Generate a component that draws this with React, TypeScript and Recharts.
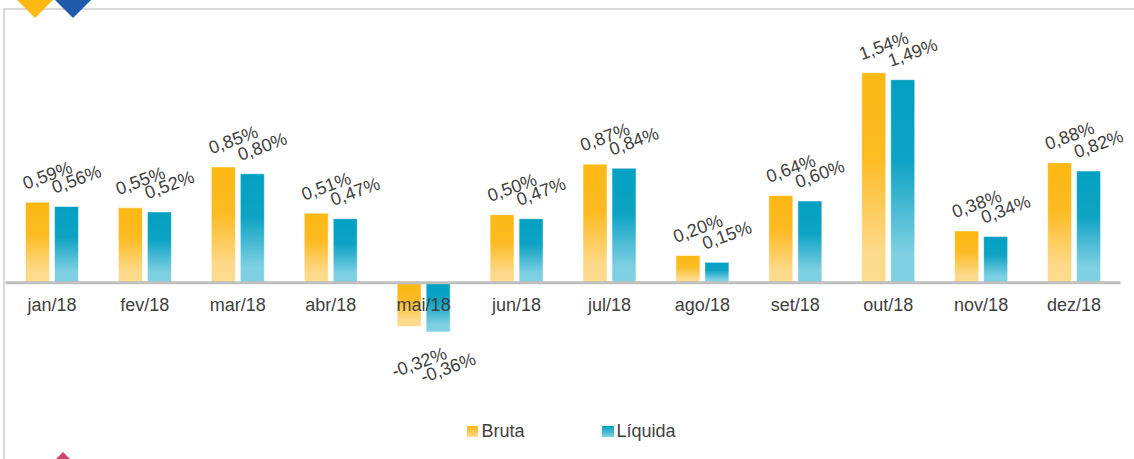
import React from "react";
import { BarChart, Bar, XAxis, YAxis, ReferenceLine, LabelList, Legend } from "recharts";

const months = ["jan/18", "fev/18", "mar/18", "abr/18", "mai/18", "jun/18", "jul/18", "ago/18", "set/18", "out/18", "nov/18", "dez/18"];
const bruta = [0.59, 0.55, 0.85, 0.51, -0.32, 0.5, 0.87, 0.2, 0.64, 1.54, 0.38, 0.88];
const liquida = [0.56, 0.52, 0.8, 0.47, -0.36, 0.47, 0.84, 0.15, 0.6, 1.49, 0.34, 0.82];
const seriesNames = ["Bruta", "Líquida"];

const data = months.map((m, i) => ({ month: m, bruta: bruta[i], liquida: liquida[i] }));

const W = 1134;
const H = 459;
const Y_MIN = -0.5;
const Y_MAX = 1.7;
const X_AXIS_H = 30;
const MARGIN = { top: 51, right: 13.5, bottom: 78, left: 5.5 };
const PLOT_H = H - MARGIN.top - MARGIN.bottom - X_AXIS_H;
const ZERO_Y = MARGIN.top + (PLOT_H * Y_MAX) / (Y_MAX - Y_MIN);

const FONT = "'Liberation Sans', Arial, sans-serif";
const TEXT = "#404040";

const fmt = (v: number) => v.toFixed(2).replace(".", ",") + "%";

const ValueLabel = (props: any) => {
  const { x, y, width, height, value } = props;
  const top = Math.min(y, y + height);
  const bottom = Math.max(y, y + height);
  const cx = x + width / 2 + 10;
  const cy = value >= 0 ? top - 27 : bottom + 36;
  return (
    <text
      x={cx}
      y={cy}
      textAnchor="middle"
      dominantBaseline="central"
      transform={`rotate(-20 ${cx} ${cy})`}
      fontSize={18}
      fontFamily={FONT}
      fill={TEXT}
    >
      {fmt(value)}
    </text>
  );
};

const MonthTick = (props: any) => {
  const { x, payload } = props;
  return (
    <text x={x} y={ZERO_Y + 28} textAnchor="middle" fontSize={18} fontFamily={FONT} fill={TEXT}>
      {payload.value}
    </text>
  );
};

const LegendContent = () => (
  <div style={{ display: "flex", justifyContent: "center", alignItems: "center", gap: 78, paddingLeft: 9, fontFamily: FONT, fontSize: 18, color: TEXT }}>
    <div style={{ display: "flex", alignItems: "center" }}>
      <span style={{ display: "inline-block", width: 11, height: 11, marginRight: 3, background: "linear-gradient(#FDB813, #FDD98A)" }} />
      <span>{seriesNames[0]}</span>
    </div>
    <div style={{ display: "flex", alignItems: "center" }}>
      <span style={{ display: "inline-block", width: 12, height: 11, marginRight: 2, background: "linear-gradient(#03A0C2, #7DCFE2)" }} />
      <span>{seriesNames[1]}</span>
    </div>
  </div>
);

export default function App() {
  return (
    <div style={{ position: "absolute", left: 0, top: 0, width: W, height: H, overflow: "hidden", background: "#fff" }}>
      <div style={{ position: "absolute", left: 3, top: 8, width: 1200, height: 600, border: "2px solid #D9D9D9", boxSizing: "border-box" }} />
      <svg width={W} height={H} style={{ position: "absolute", left: 0, top: 0 }}>
        <polygon points="35,-18 53,0 35,18 17,0" fill="#FDB813" />
        <polygon points="73,-18 91,0 73,18 55,0" fill="#1F5BAA" />
        <polygon points="63,452 81,470 63,488 45,470" fill="#C9476F" />
      </svg>
      <div style={{ position: "absolute", left: 0, top: 0 }}>
        <BarChart width={W} height={H} data={data} margin={MARGIN} barSize={24} barGap={5}>
          <defs>
            <linearGradient id="gBruta" x1="0" y1="0" x2="0" y2="1">
              <stop offset="0%" stopColor="#FDB813" />
              <stop offset="40%" stopColor="#FDBB22" />
              <stop offset="85%" stopColor="#FDD98A" />
              <stop offset="100%" stopColor="#FDDA8C" />
            </linearGradient>
            <linearGradient id="gLiquida" x1="0" y1="0" x2="0" y2="1">
              <stop offset="0%" stopColor="#03A0C2" />
              <stop offset="40%" stopColor="#0EA3C4" />
              <stop offset="85%" stopColor="#7DCFE2" />
              <stop offset="100%" stopColor="#80D0E2" />
            </linearGradient>
          </defs>
          <XAxis dataKey="month" height={X_AXIS_H} axisLine={false} tickLine={false} tick={<MonthTick />} interval={0} />
          <YAxis hide domain={[Y_MIN, Y_MAX]} />
          <Legend
            layout="horizontal"
            verticalAlign="middle"
            align="center"
            content={<LegendContent />}
            wrapperStyle={{ position: "absolute", top: 421, left: 0, width: W }}
          />
          <Bar dataKey="bruta" name={seriesNames[0]} fill="url(#gBruta)" stroke="#ffffff" strokeOpacity={0.5} strokeWidth={1} isAnimationActive={false}>
            <LabelList dataKey="bruta" content={<ValueLabel />} />
          </Bar>
          <Bar dataKey="liquida" name={seriesNames[1]} fill="url(#gLiquida)" stroke="#ffffff" strokeOpacity={0.5} strokeWidth={1} isAnimationActive={false}>
            <LabelList dataKey="liquida" content={<ValueLabel />} />
          </Bar>
          <ReferenceLine y={0} stroke="#BFBFBF" strokeWidth={3} />
        </BarChart>
      </div>
    </div>
  );
}
